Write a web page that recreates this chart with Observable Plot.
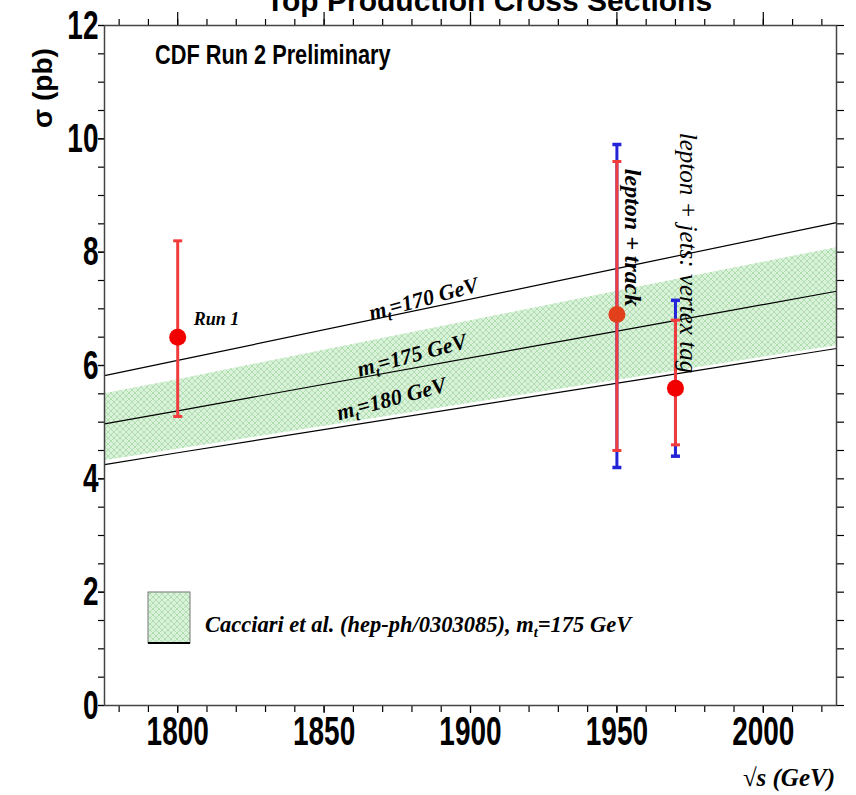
<!DOCTYPE html>
<html>
<head>
<meta charset="utf-8">
<script src="https://cdn.jsdelivr.net/npm/d3@7"></script>
<script src="https://cdn.jsdelivr.net/npm/@observablehq/plot@0.6"></script>
<style>
  html, body { margin: 0; padding: 0; background: #fff; overflow: hidden; }
  #chart { position: relative; width: 856px; height: 795px; overflow: hidden; }
</style>
</head>
<body>
<div id="chart"></div>
<script>
// Theory curves (Cacciari et al. NLO+NLL) versus centre-of-mass energy
const energies  = [1775, 1800, 1960, 2025];
const sigma170  = [5.82, 6.09, 7.82, 8.52];
const sigma175  = [4.97, 5.20, 6.70, 7.31];
const sigma180  = [4.25, 4.46, 5.77, 6.30];
const bandHigh  = [5.50, 5.75, 7.41, 8.08];
const bandLow   = [4.32, 4.52, 5.82, 6.35];
const massLabels = ["m_t=170 GeV", "m_t=175 GeV", "m_t=180 GeV"];
const massLabelEnergy = [1884, 1880, 1873];

// Measurements: central value, statistical and total uncertainty limits
const measNames  = ["Run 1", "lepton + track", "lepton + jets: vertex tag"];
const measEnergy = [1800, 1950, 1970];
const measSigma  = [6.5, 6.9, 5.6];
const statHigh   = [8.2, 9.6, 6.8];
const statLow    = [5.1, 4.5, 4.6];
const totHigh    = [null, 9.9, 7.15];
const totLow     = [null, 4.2, 4.4];

// Axis ticks
const xMajorTicks = [1800, 1850, 1900, 1950, 2000];
const xMinorTicks = d3.range(1780, 2021, 10);
const yMajorTicks = [0, 2, 4, 6, 8, 10, 12];
const yMinorTicks = d3.range(0, 12.01, 0.5);

const legendText = "Cacciari et al. (hep-ph/0303085), m_t=175 GeV";

// ---- tables built from the arrays above
const theory = energies.map((e, i) => ({
  e, s170: sigma170[i], s175: sigma175[i], s180: sigma180[i], hi: bandHigh[i], lo: bandLow[i]
}));
const curves = [sigma170, sigma175, sigma180];
const massRows = massLabels.map((text, i) => ({
  text, e: massLabelEnergy[i], s: d3.scaleLinear(energies, curves[i])(massLabelEnergy[i])
}));
const meas = measNames.map((name, i) => ({
  name, e: measEnergy[i], s: measSigma[i],
  sHi: statHigh[i], sLo: statLow[i], tHi: totHigh[i], tLo: totLow[i]
}));
const withTotal = meas.filter(d => d.tHi != null);
const capRows = (rows, a, b) => rows.flatMap(d => [{e: d.e, s: d[a]}, {e: d.e, s: d[b]}]);

// short horizontal bar used as error-bar cap
const capSymbol = {
  draw(ctx, size) {
    const r = Math.sqrt(size / Math.PI);
    ctx.moveTo(-r, 0); ctx.lineTo(r, 0);
  }
};

const RED = "#f03c3c", BLUE = "#2323d8";
const serif = "'Liberation Serif', 'Times New Roman', serif";
const sans = "'Liberation Sans', Arial, Helvetica, sans-serif";

const massOffsets = [-10, -13, -20];

const svg = Plot.plot({
  width: 856,
  height: 795,
  marginTop: 25,
  marginBottom: 90,
  marginLeft: 104,
  marginRight: 20,
  style: { fontFamily: sans, background: "white", overflow: "visible" },
  x: { domain: [1775, 2025] },
  y: { domain: [0, 12] },
  marks: [
    // uncertainty band of the m_t = 175 GeV prediction
    Plot.areaY(theory, { x: "e", y1: "lo", y2: "hi", fill: "url(#cacciariHatch)" }),
    // mass curves
    Plot.line(theory, { x: "e", y: "s170", stroke: "black", strokeWidth: 1.2 }),
    Plot.line(theory, { x: "e", y: "s175", stroke: "black", strokeWidth: 1.2 }),
    Plot.line(theory, { x: "e", y: "s180", stroke: "black", strokeWidth: 1.2 }),
    ...massRows.map((row, i) => Plot.text([row], {
      x: "e", y: "s", text: "text", rotate: -15, dy: massOffsets[i],
      fontFamily: serif, fontStyle: "italic", fontWeight: "bold", fontSize: 22
    })),
    // total uncertainty (blue) beneath statistical (red)
    Plot.ruleX(withTotal, { x: "e", y1: "tLo", y2: "tHi", stroke: BLUE, strokeWidth: 3 }),
    Plot.dot(capRows(withTotal, "tLo", "tHi"), { x: "e", y: "s", symbol: capSymbol, r: 4.5, fill: "none", stroke: BLUE, strokeWidth: 3.5 }),
    Plot.ruleX(meas, { x: "e", y1: "sLo", y2: "sHi", stroke: RED, strokeWidth: 3 }),
    Plot.dot(capRows(meas, "sLo", "sHi"), { x: "e", y: "s", symbol: capSymbol, r: 4.5, fill: "none", stroke: RED, strokeWidth: 3 }),
    Plot.dot(meas, { x: "e", y: "s", r: 8.5, fill: (d, i) => i === 1 ? "#e2401c" : "#f20000", stroke: "none" }),
    // measurement labels
    Plot.text(meas.slice(0, 1), {
      x: "e", y: "s", text: "name", textAnchor: "start", dx: 16, dy: -18,
      fontFamily: serif, fontStyle: "italic", fontWeight: "bold", fontSize: 18
    }),
    Plot.text(meas.slice(1, 2), {
      x: "e", y: "s", text: "name", rotate: 90, textAnchor: "end", dx: 16, dy: -8,
      fontFamily: serif, fontStyle: "italic", fontWeight: "bold", fontSize: 24
    }),
    Plot.text(meas.slice(2, 3), {
      x: "e", y: "s", text: "name", rotate: 90, textAnchor: "end", dx: 13, dy: -15,
      fontFamily: serif, fontStyle: "italic", fontSize: 25
    }),
    // axes: outward ticks on all four sides
    Plot.axisX(xMinorTicks, { anchor: "bottom", tickSize: 7, tickFormat: () => "", label: null, strokeWidth: 1.2 }),
    Plot.axisX(xMajorTicks, {
      anchor: "bottom", tickSize: 8, tickPadding: 3, tickFormat: d => String(d), label: null,
      fontSize: 28, fontWeight: "bold", strokeWidth: 1.2
    }),
    Plot.axisX(xMinorTicks, { anchor: "top", tickSize: 7, tickFormat: () => "", label: null, strokeWidth: 1.2 }),
    Plot.axisX(xMajorTicks, { anchor: "top", tickSize: 14, tickFormat: () => "", label: null, strokeWidth: 1.2 }),
    Plot.axisY(yMinorTicks, { anchor: "left", tickSize: 6, tickFormat: () => "", label: null, strokeWidth: 1.2 }),
    Plot.axisY(yMajorTicks, {
      anchor: "left", tickSize: 6, tickPadding: 0, tickFormat: d => String(d), label: null,
      fontSize: 28, fontWeight: "bold", strokeWidth: 1.2
    }),
    Plot.axisY(yMinorTicks, { anchor: "right", tickSize: 7, tickFormat: () => "", label: null, strokeWidth: 1.2 }),
    Plot.frame({ stroke: "#444", strokeWidth: 1.5 })
  ]
});

const s = d3.select(svg);

// cross-hatched light green fill for the band
s.insert("defs", ":first-child").html(`
  <pattern id="cacciariHatch" width="6" height="6" patternUnits="userSpaceOnUse">
    <rect width="6" height="6" fill="#daf2da"/>
    <path d="M0,0 L6,6 M6,0 L0,6" stroke="#b0deb0" stroke-width="1"/>
  </pattern>`);

// tall, narrow tick numerals
function stretch(sel, sy) {
  sel.each(function () {
    const t = d3.select(this);
    let tr = t.attr("transform");
    if (!tr) {
      tr = `translate(${+t.attr("x") || 0},${+t.attr("y") || 0})`;
      t.attr("x", null).attr("y", null);
    }
    t.attr("transform", tr + ` scale(1,${sy})`);
  });
}
const tickTexts = s.selectAll("text").filter(function () {
  return /^\d+$/.test(this.textContent);
});
stretch(tickTexts, 1.45);

// subscript t in "m_t"
function subscriptT(textSel) {
  textSel.each(function () {
    const t = d3.select(this);
    const full = t.text();
    const [head, tail] = full.split("_t");
    t.text(null);
    t.append("tspan").text(head);
    t.append("tspan").attr("dy", 5).attr("font-size", "0.65em").text("t");
    t.append("tspan").attr("dy", -5).text(tail);
  });
}
subscriptT(s.selectAll("text").filter(function () { return this.textContent.includes("_t"); }));

// title, experiment tag, axis titles
s.append("text")
  .attr("x", 489).attr("y", 11).attr("text-anchor", "middle")
  .style("font", `bold 30px ${sans}`)
  .text("Top Production Cross Sections");

s.append("text")
  .attr("transform", "translate(155,64) scale(0.87,1.1)")
  .attr("text-anchor", "start")
  .style("font", `bold 25px ${sans}`)
  .text("CDF Run 2 Preliminary");

s.append("text")
  .attr("transform", "translate(52,88) rotate(-90)")
  .attr("text-anchor", "middle")
  .style("font", `bold 28px ${sans}`)
  .text("σ (pb)");

s.append("text")
  .attr("x", 835).attr("y", 786).attr("text-anchor", "end")
  .style("font", `italic bold 25px ${serif}`)
  .text("√s (GeV)");

// legend
const lg = s.append("g");
lg.append("rect").attr("x", 148).attr("y", 592).attr("width", 42).attr("height", 51)
  .attr("fill", "url(#cacciariHatch)").attr("stroke", "#777").attr("stroke-width", 1);
lg.append("line").attr("x1", 148).attr("x2", 190).attr("y1", 643).attr("y2", 643)
  .attr("stroke", "black").attr("stroke-width", 2);
const lt = lg.append("text").attr("x", 205).attr("y", 632).attr("text-anchor", "start")
  .style("font", `italic bold 22.5px ${serif}`).text(legendText);
subscriptT(lt);

document.getElementById("chart").appendChild(svg);
</script>
</body>
</html>
